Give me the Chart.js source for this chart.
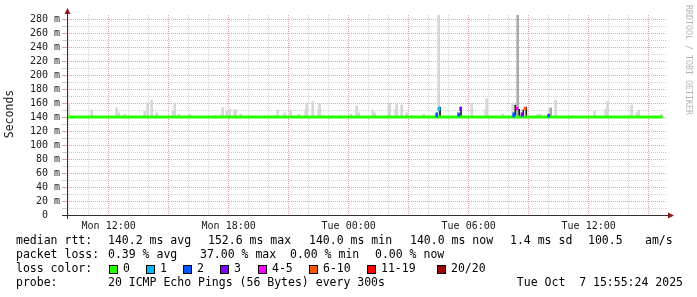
<!DOCTYPE html>
<html>
<head>
<meta charset="utf-8">
<script src="https://cdn.jsdelivr.net/npm/chart.js@4.4.0/dist/chart.umd.min.js"></script>
<style>
  html, body { margin: 0; padding: 0; background: #fff; }
  canvas { display: block; }
</style>
</head>
<body>
<canvas id="smokeCanvas" width="697" height="297"></canvas>
<script>
// time is in hours counted from Mon 00:00
const startHour = 9 + 55 / 60;
const endHour = 39 + 55 / 60;
const tickHours = [12, 18, 24, 30, 36];
const tickNames = ['Mon 12:00', 'Mon 18:00', 'Tue 00:00', 'Tue 06:00', 'Tue 12:00'];

// median rtt (ms)
const medianHours = [startHour, 39.7];
const medianValues = [140, 140];

// light smoke: spread of the 20 pings above the median
const smokeHours = [10.0, 11.15, 12.4, 12.5, 12.8, 13.8, 13.95, 14.15, 14.4, 15.2, 15.3, 15.5, 16.05,
  17.3, 17.65, 17.7, 17.9, 18.05, 18.3, 18.35, 18.6, 20.3, 20.45, 20.8, 21.1, 21.5, 21.85, 21.9,
  22.2, 22.5, 22.55, 22.7, 23.2, 23.55, 23.85, 24.1, 24.4, 24.5, 25.2, 25.3, 26.0, 26.05, 26.35,
  26.4, 26.65, 26.9, 27.15, 27.75, 28.5, 30.15, 30.85, 30.9, 31.7, 32.2, 33.45, 33.6, 34.35, 35.2,
  36.3, 36.85, 36.95, 38.15, 38.4, 38.5, 39.65];
const smokeTops = [160, 150, 153, 146, 144, 148, 160, 164, 146, 148, 160, 144, 144,
  142, 144, 153, 148, 151, 148, 151, 144, 142, 150, 146, 150, 144, 150, 160,
  162, 151, 159, 142, 142, 142, 142, 144, 156, 146, 150, 146, 156, 160, 150,
  160, 157, 146, 142, 144, 300, 160, 150, 166, 144, 160, 144, 144, 164, 142,
  148, 151, 162, 157, 146, 150, 144];

// denser smoke
const denseHours = [32.45, 34.1];
const denseTops = [300, 153];

// darkest smoke core
const coreHours = [28.57, 29.62, 32.33, 32.53, 32.73, 32.88];
const coreTops = [154, 154, 157, 151, 150, 154];

// median drawn in loss colour where pings were lost
const lossHours = [28.4, 28.52, 29.5, 29.6, 32.25, 32.42, 32.67, 32.82, 34.0];
const lossLow = [140, 149, 141, 149, 140, 150, 141, 150, 140];
const lossHigh = [146, 154, 146, 154, 146, 154, 146, 154, 144];
const lossLevel = [2, 1, 2, 3, 2, 4, 3, 5, 2];

const lossNames = ['0', '1', '2', '3', '4-5', '6-10', '11-19', '20/20'];
const lossColors = ['#26ff00', '#00b8ff', '#0059ff', '#7e00ff', '#ff00ff', '#ff5500', '#ff0000', '#a10000'];

const rttLine = ['median rtt:', '140.2 ms avg', '152.6 ms max', '140.0 ms min', '140.0 ms now', '1.4 ms sd', '100.5', 'am/s'];
const lossLine = ['packet loss:', '0.39 % avg', '37.00 % max', '0.00 % min', '0.00 % now'];
const probeLine = ['probe:', '20 ICMP Echo Pings (56 Bytes) every 300s', 'Tue Oct  7 15:55:24 2025'];

const MONO = '"DejaVu Sans Mono", "Liberation Mono", monospace';
const majorGrid = '#e3a3a3';
const minorGrid = '#d0d0d0';
const arrowColor = '#8b1c1c';

const rrdDecor = {
    id: 'rrdDecor',
    afterDraw(chart) {
        const ctx = chart.ctx;
        const a = chart.chartArea;
        ctx.save();

        // axes with arrows
        ctx.strokeStyle = '#303030';
        ctx.lineWidth = 1;
        ctx.beginPath();
        ctx.moveTo(a.left - 5, a.bottom + 0.5);
        ctx.lineTo(a.right + 3, a.bottom + 0.5);
        ctx.moveTo(a.left + 0.5, a.bottom + 4);
        ctx.lineTo(a.left + 0.5, a.top - 3);
        ctx.stroke();
        ctx.fillStyle = arrowColor;
        ctx.beginPath();
        ctx.moveTo(a.right + 7, a.bottom + 0.5);
        ctx.lineTo(a.right + 1, a.bottom - 2.5);
        ctx.lineTo(a.right + 1, a.bottom + 3.5);
        ctx.fill();
        ctx.beginPath();
        ctx.moveTo(a.left + 0.5, a.top - 7);
        ctx.lineTo(a.left - 2.5, a.top - 1);
        ctx.lineTo(a.left + 3.5, a.top - 1);
        ctx.fill();

        // vertical unit label
        ctx.fillStyle = '#202020';
        ctx.font = '11.5px ' + MONO;
        ctx.textAlign = 'center';
        ctx.textBaseline = 'middle';
        ctx.save();
        ctx.translate(10, 114);
        ctx.rotate(-Math.PI / 2);
        ctx.fillText('Seconds', 0, 0);
        ctx.restore();

        // watermark
        ctx.save();
        ctx.fillStyle = '#b4b4b4';
        ctx.font = '8.3px ' + MONO;
        ctx.textAlign = 'left';
        ctx.translate(688, 5);
        ctx.rotate(Math.PI / 2);
        ctx.fillText('RRDTOOL / TOBI OETIKER', 0, 0);
        ctx.restore();

        // legend block
        ctx.textAlign = 'left';
        ctx.fillStyle = '#000';
        const row1 = [16, 108, 208, 309, 410, 510, 588, 645];
        rttLine.forEach((t, i) => ctx.fillText(t, row1[i], 241));
        const row2 = [16, 108, 200, 290, 375];
        lossLine.forEach((t, i) => ctx.fillText(t, row2[i], 255));
        ctx.fillText('loss color:', 16, 269);
        const boxX = [109, 146, 183, 220, 258, 309, 367, 437];
        lossNames.forEach((n, i) => {
            ctx.fillStyle = lossColors[i];
            ctx.fillRect(boxX[i], 265, 8, 8);
            ctx.strokeStyle = '#000';
            ctx.strokeRect(boxX[i] + 0.5, 265.5, 8, 8);
            ctx.fillStyle = '#000';
            ctx.fillText(n, boxX[i] + 14, 269);
        });
        ctx.fillText(probeLine[0], 16, 283);
        ctx.fillText(probeLine[1], 108, 283);
        ctx.textAlign = 'right';
        ctx.fillText(probeLine[2], 683, 283);
        ctx.restore();
    }
};

const floating = (hours, lows, highs) => hours.map((h, i) => ({ x: h, y: [Array.isArray(lows) ? lows[i] : lows, highs[i]] }));

new Chart(document.getElementById('smokeCanvas'), {
    data: {
        datasets: [
            {
                type: 'bar',
                label: 'loss',
                data: floating(lossHours, lossLow, lossHigh),
                backgroundColor: lossLevel.map(l => lossColors[l]),
                barThickness: 2,
                grouped: false
            },
            {
                type: 'line',
                label: 'median rtt',
                data: medianHours.map((h, i) => ({ x: h, y: medianValues[i] })),
                borderColor: lossColors[0],
                borderWidth: 3,
                pointRadius: 0
            },
            {
                type: 'bar',
                label: 'core',
                data: floating(coreHours, 140, coreTops),
                backgroundColor: '#1a1a1a',
                barThickness: 1,
                grouped: false
            },
            {
                type: 'bar',
                label: 'dense',
                data: floating(denseHours, 140, denseTops),
                backgroundColor: '#ababab',
                barThickness: 2,
                grouped: false
            },
            {
                type: 'bar',
                label: 'smoke',
                data: floating(smokeHours, 140, smokeTops),
                backgroundColor: '#d6d6d6',
                barThickness: 2,
                grouped: false
            }
        ]
    },
    options: {
        responsive: false,
        animation: false,
        devicePixelRatio: 1,
        layout: { padding: { top: 15, right: 30, left: 0, bottom: 0 } },
        plugins: { legend: { display: false }, tooltip: { enabled: false } },
        scales: {
            x: {
                type: 'linear',
                offset: false,
                min: startHour,
                max: endHour,
                afterBuildTicks: s => {
                    const ticks = [];
                    for (let h = Math.ceil(startHour); h <= endHour; h++) ticks.push({ value: h });
                    s.ticks = ticks;
                },
                afterFit: s => { s.height = 82; },
                grid: {
                    offset: false,
                    color: c => (c.tick && c.tick.value % 3 === 0) ? majorGrid : minorGrid,
                    drawTicks: false,
                    lineWidth: 1
                },
                border: { display: false, dash: [1, 1] },
                ticks: {
                    autoSkip: false,
                    maxRotation: 0,
                    padding: 5,
                    color: '#202020',
                    font: { family: MONO, size: 10 },
                    callback: v => {
                        const i = tickHours.indexOf(v);
                        return i >= 0 ? tickNames[i] : '';
                    }
                }
            },
            y: {
                min: 0,
                max: 200 / 0.7,
                afterBuildTicks: s => {
                    const ticks = [];
                    for (let v = 0; v <= 280; v += 10) ticks.push({ value: v });
                    s.ticks = ticks;
                },
                afterFit: s => { s.width = 67; },
                grid: {
                    color: c => (c.tick && c.tick.value % 20 === 0) ? majorGrid : minorGrid,
                    tickLength: 5,
                    lineWidth: 1
                },
                border: { display: false, dash: [1, 1] },
                ticks: {
                    autoSkip: false,
                    padding: 2,
                    color: '#202020',
                    font: { family: MONO, size: 10 },
                    callback: v => {
                        if (v % 20 !== 0) return '';
                        return v === 0 ? '0  ' : v + ' m';
                    }
                }
            }
        }
    },
    plugins: [rrdDecor]
});
</script>
</body>
</html>
